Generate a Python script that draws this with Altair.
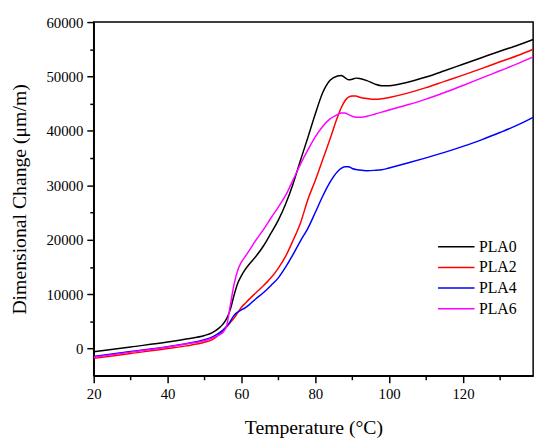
import altair as alt
import pandas as pd

# Temperature grid (°C) shared by all series
temps = [20, 30, 40, 45, 50, 52, 54, 55, 56, 57, 58, 59, 60, 61, 62, 64, 66, 68, 70,
         72, 74, 76, 78, 80, 82, 84, 86, 87, 88, 89, 90, 91, 92, 94, 96, 98, 100,
         105, 110, 115, 120, 125, 130, 135, 139]

pla0 = [-600, 300, 1200, 1750, 2400, 2900, 3800, 4500, 5500, 7200, 9800, 12000, 13400, 14500, 15400,
        17000, 18900, 21200, 23600, 26600, 30300, 34600, 38800, 43100, 47000, 49300, 50100, 50200,
        49800, 49400, 49500, 49700, 49650, 49250, 48650, 48300, 48300, 48950, 49900, 51050,
        52250, 53450, 54650, 55800, 56800]

pla2 = [-1800, -900, 0, 500, 1150, 1600, 2600, 3300, 4000, 4800, 5600, 6600, 7600, 8300, 9000,
        10300, 11600, 13000, 14800, 17000, 19900, 23100, 27400, 30900, 34700, 38500, 42500, 44200,
        45500, 46200, 46400, 46400, 46200, 45950, 45800, 45900, 46150, 46950, 47950, 49100,
        50250, 51450, 52700, 53900, 55000]

pla4 = [-1450, -550, 350, 900, 1650, 2100, 2900, 3400, 4100, 5000, 6100, 6700, 7100, 7500, 8000,
        9200, 10300, 11600, 13000, 15000, 17300, 19800, 22100, 25000, 28000, 30600, 32500, 33100,
        33400, 33400, 33100, 32900, 32800, 32700, 32750, 32850, 33200, 34100, 35050, 36050,
        37150, 38350, 39700, 41150, 42500]

pla6 = [-1600, -650, 300, 850, 1450, 1900, 2500, 3000, 4200, 8000, 11800, 14400, 15900, 16900, 17900,
        20000, 21900, 24000, 26000, 28200, 31000, 33900, 36500, 38900, 40800, 42200, 43000, 43300,
        43300, 43000, 42700, 42500, 42500, 42700, 43050, 43450, 43850, 44800, 45850, 47050,
        48350, 49700, 51050, 52400, 53600]

series_names = ["PLA0", "PLA2", "PLA4", "PLA6"]
series_colors = ["#000000", "#FF0000", "#0000FF", "#FF00FF"]
x_ticks = [20, 30, 40, 50, 60, 70, 80, 90, 100, 110, 120, 130]
y_ticks = [0, 5000, 10000, 15000, 20000, 25000, 30000, 35000, 40000, 45000, 50000, 55000, 60000]

rows = []
for name, vals in zip(series_names, [pla0, pla2, pla4, pla6]):
    for t, v in zip(temps, vals):
        rows.append({"T": t, "v": v, "s": name})
df = pd.DataFrame(rows)

FONT = "Liberation Serif"

chart = alt.Chart(df).mark_line(strokeWidth=1.5, interpolate="monotone", clip=True).encode(
    x=alt.X("T:Q",
            scale=alt.Scale(domain=[20, 139], nice=False, zero=False),
            axis=alt.Axis(values=x_ticks, title="Temperature (°C)",
                          labelExpr="datum.value % 20 === 0 ? datum.label : ''",
                          tickSize={"condition": {"test": "datum.value % 20 === 0", "value": 7}, "value": 4},
                          labelFlush=False, labelOverlap=False, grid=False,
                          labelPadding=4, titlePadding=17)),
    y=alt.Y("v:Q",
            scale=alt.Scale(domain=[-5000, 60000], nice=False, zero=False),
            axis=alt.Axis(values=y_ticks, title="Dimensional Change (μm/m)", format="d",
                          labelExpr="datum.value % 10000 === 0 ? datum.label : ''",
                          tickSize={"condition": {"test": "datum.value % 10000 === 0", "value": 7}, "value": 4},
                          labelFlush=False, labelOverlap=False, grid=False,
                          labelPadding=4, titlePadding=17)),
    color=alt.Color("s:N",
                    scale=alt.Scale(domain=series_names, range=series_colors),
                    legend=alt.Legend(title=None, orient="none", legendX=358, legendY=218,
                                      symbolType="M-2,0H2", symbolSize=342, symbolStrokeWidth=1.5,
                                      labelFontSize=16, labelFont=FONT, labelOffset=13,
                                      rowPadding=3, labelColor="black", padding=0)),
).properties(
    width=446, height=359,
    autosize=alt.AutoSizeParams(type="none"),
    padding={"left": 87, "top": 11, "right": 9, "bottom": 70},
).configure_view(
    stroke="black", strokeWidth=1.5
).configure_axis(
    domainColor="black", domainWidth=1.5, tickColor="black", tickWidth=1.5,
    labelFont=FONT, labelFontSize=15, labelColor="black",
    titleFont=FONT, titleFontSize=20, titleFontWeight="normal", titleColor="black",
)

chart.save("out.html", embed_options={"renderer": "svg", "actions": False})
